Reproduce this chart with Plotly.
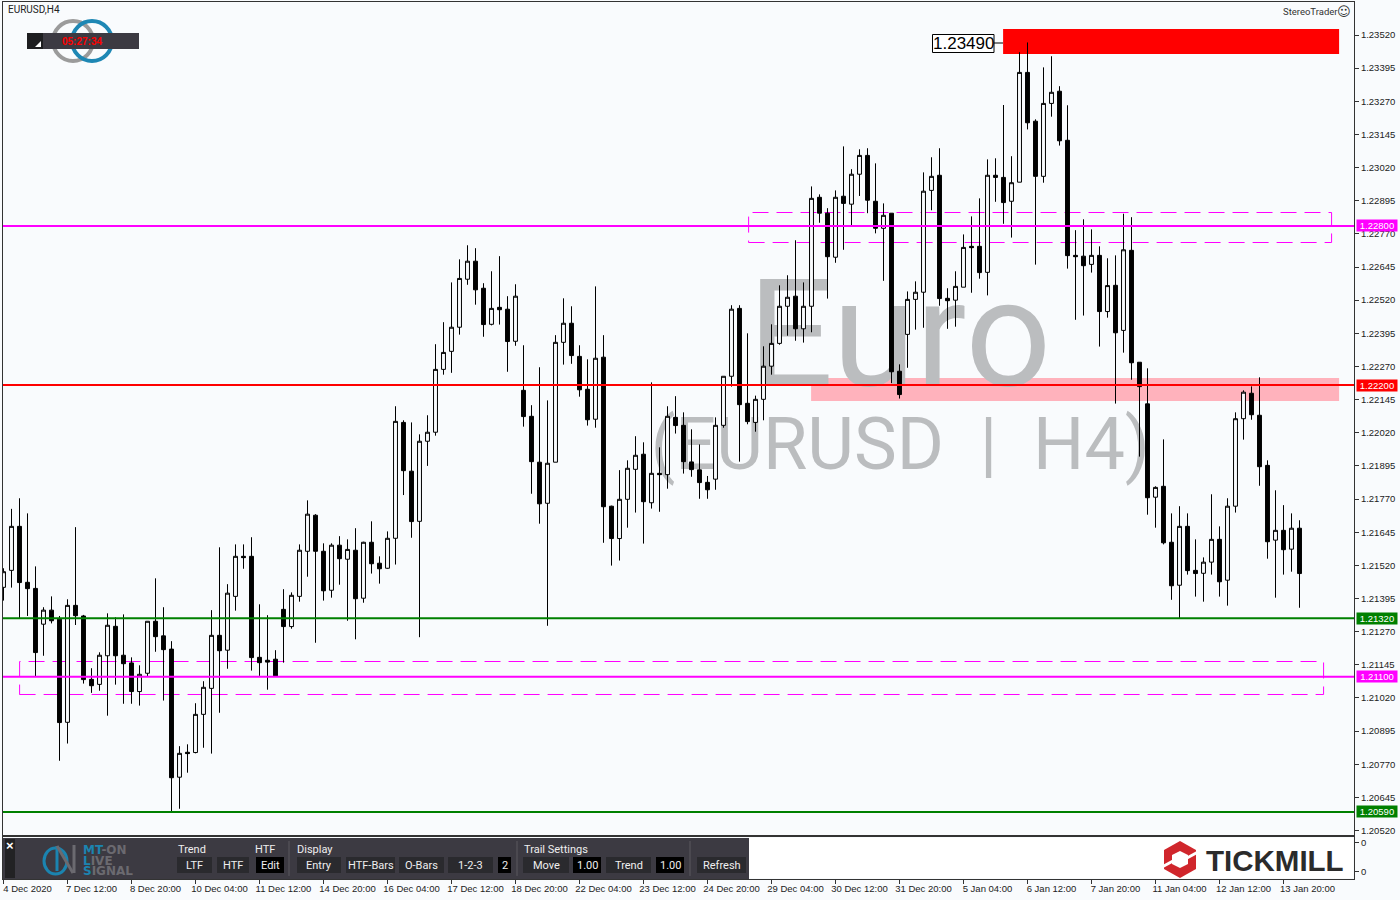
import plotly.graph_objects as go

# ---------- data ----------
open_prices = [
1.21437,1.21501,1.21667,1.21456,1.21433,1.21298,1.21351,1.21317,1.20928,1.21369,
1.21329,1.21090,1.21071,1.21179,1.21290,1.21181,1.21152,1.21044,1.21113,1.21309,
1.21254,1.21204,1.20721,1.20815,1.20814,1.20958,1.21056,1.21256,1.21200,1.21403,
1.21554,1.21554,1.21173,1.21162,1.21166,1.21354,1.21289,1.21403,1.21573,1.21709,
1.21573,1.21426,1.21596,1.21543,1.21577,1.21396,1.21607,1.21528,1.21509,1.21622,
1.22059,1.21875,1.21686,1.21988,1.22022,1.22259,1.22327,1.22418,1.22599,1.22667,
1.22565,1.22429,1.22493,1.22486,1.22365,1.22180,1.22082,1.21909,1.21754,1.21909,
1.22361,1.22433,1.22308,1.22184,1.22071,1.22305,1.21743,1.21621,1.21769,1.21882,
1.21939,1.21756,1.21867,1.21862,1.22078,1.22048,1.21910,1.21880,1.21833,1.21845,
1.22048,1.22233,1.22489,1.22131,1.22059,1.22146,1.22271,1.22357,1.22497,1.22535,
1.22412,1.22497,1.22908,1.22848,1.22682,1.22912,1.22882,1.22995,1.23066,1.22893,
1.22791,1.22848,1.22252,1.22391,1.22523,1.22550,1.22934,1.22991,1.22527,1.22520,
1.22569,1.22723,1.22723,1.22625,1.22991,1.22983,1.22893,1.22965,1.23379,1.23195,
1.22987,1.23262,1.23308,1.23123,1.22689,1.22686,1.22655,1.22689,1.22477,1.22576,
1.22406,1.22708,1.22286,1.22129,1.21777,1.21818,1.21607,1.21445,1.21667,1.21501,
1.21490,1.21532,1.21618,1.21464,1.21743,1.22073,1.22169,1.22086,1.21897,1.21615,
1.21652,1.21581,1.21660]
high_prices = [
1.21509,1.21733,1.21773,1.21716,1.21516,1.21362,1.21403,1.21329,1.21392,1.21664,
1.21333,1.21132,1.21192,1.21339,1.21324,1.21335,1.21173,1.21143,1.21309,1.21471,
1.21362,1.21234,1.20838,1.20845,1.21000,1.21083,1.21351,1.21588,1.21449,1.21599,
1.21599,1.21626,1.21373,1.21332,1.21200,1.21430,1.21418,1.21599,1.21765,1.21713,
1.21603,1.21603,1.21630,1.21618,1.21660,1.21609,1.21686,1.21554,1.21648,1.22120,
1.22067,1.22059,1.22014,1.22086,1.22354,1.22437,1.22587,1.22674,1.22727,1.22716,
1.22584,1.22629,1.22686,1.22535,1.22580,1.22350,1.22124,1.22267,1.22142,1.22388,
1.22527,1.22497,1.22350,1.22297,1.22572,1.22388,1.21745,1.21879,1.21916,1.22007,
1.21984,1.22210,1.21965,1.22120,1.22158,1.22097,1.22033,1.21976,1.21857,1.22078,
1.22233,1.22501,1.22501,1.22395,1.22160,1.22346,1.22429,1.22576,1.22614,1.22746,
1.22587,1.22949,1.22919,1.22867,1.22934,1.23100,1.23014,1.23089,1.23093,1.23036,
1.22885,1.22848,1.22278,1.22553,1.22591,1.23002,1.23059,1.23093,1.22565,1.22629,
1.22768,1.22836,1.22904,1.23051,1.23055,1.23256,1.23063,1.23455,1.23492,1.23202,
1.23398,1.23440,1.23327,1.23255,1.22784,1.22825,1.22787,1.22723,1.22678,1.22689,
1.22846,1.22833,1.22286,1.22263,1.21818,1.21995,1.21716,1.21743,1.21716,1.21618,
1.21550,1.21788,1.21667,1.21773,1.22097,1.22180,1.22195,1.22229,1.21916,1.21803,
1.21747,1.21716,1.21690]
low_prices = [
1.21387,1.21436,1.21321,1.21329,1.21100,1.21179,1.21301,1.20783,1.20848,1.21295,
1.21074,1.21039,1.21047,1.20953,1.21070,1.20998,1.20998,1.20991,1.21100,1.21194,
1.21010,1.20591,1.20602,1.20738,1.20811,1.20832,1.20810,1.20964,1.21130,1.21349,
1.21507,1.21123,1.21103,1.21051,1.21100,1.21153,1.21281,1.21383,1.21477,1.21228,
1.21387,1.21398,1.21447,1.21311,1.21241,1.21379,1.21489,1.21451,1.21507,1.21523,
1.21785,1.21624,1.21249,1.21895,1.22009,1.22239,1.22246,1.22390,1.22578,1.22503,
1.22382,1.22425,1.22428,1.22250,1.22348,1.22043,1.21790,1.21677,1.21292,1.21909,
1.22277,1.22280,1.22156,1.22047,1.22039,1.21605,1.21519,1.21538,1.21662,1.21719,
1.21602,1.21734,1.21722,1.21809,1.22017,1.21866,1.21854,1.21771,1.21771,1.21805,
1.22039,1.22194,1.21911,1.22052,1.22024,1.22067,1.22239,1.22352,1.22386,1.22367,
1.22360,1.22399,1.22812,1.22526,1.22661,1.22710,1.22802,1.22913,1.22848,1.22772,
1.22593,1.22207,1.22149,1.22265,1.22409,1.22416,1.22859,1.22499,1.22412,1.22420,
1.22569,1.22548,1.22601,1.22538,1.22891,1.22808,1.22756,1.22965,1.23164,1.22654,
1.22963,1.23212,1.23103,1.22639,1.22446,1.22462,1.22624,1.22345,1.22454,1.22130,
1.22322,1.22220,1.21930,1.21711,1.21662,1.21599,1.21390,1.21320,1.21485,1.21402,
1.21383,1.21485,1.21402,1.21368,1.21719,1.21994,1.22069,1.21820,1.21545,1.21398,
1.21485,1.21496,1.21360]
close_prices = [
1.21496,1.21667,1.21455,1.21432,1.21191,1.21351,1.21311,1.20927,1.21369,1.21330,
1.21089,1.21066,1.21181,1.21294,1.21179,1.21149,1.21044,1.21109,1.21309,1.21251,
1.21202,1.20719,1.20811,1.20810,1.20958,1.21060,1.21256,1.21198,1.21415,1.21554,
1.21549,1.21172,1.21153,1.21155,1.21103,1.21289,1.21407,1.21577,1.21713,1.21573,
1.21424,1.21596,1.21545,1.21580,1.21394,1.21607,1.21526,1.21507,1.21622,1.22063,
1.21877,1.21685,1.21988,1.22022,1.22259,1.22323,1.22418,1.22602,1.22667,1.22559,
1.22428,1.22489,1.22484,1.22364,1.22535,1.22081,1.21911,1.21752,1.21905,1.22361,
1.22433,1.22311,1.22182,1.22069,1.22301,1.21741,1.21621,1.21769,1.21886,1.21935,
1.21760,1.21867,1.21862,1.22082,1.22047,1.21911,1.21881,1.21832,1.21805,1.22048,
1.22233,1.22486,1.22126,1.22062,1.22146,1.22271,1.22357,1.22497,1.22531,1.22412,
1.22497,1.22904,1.22848,1.22684,1.22908,1.22885,1.22995,1.23066,1.22897,1.22791,
1.22840,1.22250,1.22164,1.22523,1.22550,1.22931,1.22987,1.22526,1.22518,1.22572,
1.22719,1.22718,1.22624,1.22991,1.22983,1.22888,1.22963,1.23379,1.23189,1.22987,
1.23262,1.23304,1.23121,1.22688,1.22684,1.22650,1.22689,1.22477,1.22575,1.22397,
1.22710,1.22284,1.22194,1.21775,1.21814,1.21605,1.21443,1.21667,1.21500,1.21489,
1.21532,1.21618,1.21458,1.21743,1.22073,1.22173,1.22088,1.21892,1.21609,1.21652,
1.21579,1.21660,1.21489]

price_ticks = [1.23520,1.23395,1.23270,1.23145,1.23020,1.22895,1.22770,1.22645,1.22520,1.22395,
               1.22270,1.22145,1.22020,1.21895,1.21770,1.21645,1.21520,1.21395,1.21270,1.21145,
               1.21020,1.20895,1.20770,1.20645,1.20520]
time_labels = ["4 Dec 2020","7 Dec 12:00","8 Dec 20:00","10 Dec 04:00","11 Dec 12:00","14 Dec 20:00",
               "16 Dec 04:00","17 Dec 12:00","18 Dec 20:00","22 Dec 04:00","23 Dec 12:00","24 Dec 20:00",
               "29 Dec 04:00","30 Dec 12:00","31 Dec 20:00","5 Jan 04:00","6 Jan 12:00","7 Jan 20:00",
               "11 Jan 04:00","12 Jan 12:00","13 Jan 20:00"]
time_ticks = [8 * k for k in range(len(time_labels))]
level_prices = [1.22800, 1.22200, 1.21320, 1.21100, 1.20590]
level_colors = ["#FF00FF", "#FF0000", "#008000", "#FF00FF", "#008000"]

# ---------- layout helpers ----------
W, H = 1400, 900
BG = "#F9FBFD"
INK = "#333333"
AXFONT = "Liberation Sans"
xp = lambda px: px / W
yp = lambda py: 1 - py / H
XR = [-0.0625, -0.0625 + 1351 / 8]
YR = [1.20503, 1.236445]
idx = list(range(len(open_prices)))

fig = go.Figure()
# watermark lives on the base subplot, so the candles overlay it
fig.add_trace(go.Scatter(x=[112.0, 112.1], y=[1.22340, 1.21951], mode="text",
                         text=["Euro", "(EURUSD\u00a0\u00a0|\u00a0\u00a0H4)"],
                         textposition="middle center", cliponaxis=False, hoverinfo="skip",
                         textfont=dict(family="Roboto", size=[151, 72], color="#BBBDBF"),
                         showlegend=False, xaxis="x", yaxis="y"))
fig.add_trace(go.Candlestick(x=idx, open=open_prices, high=high_prices, low=low_prices, close=close_prices,
                             increasing=dict(line=dict(color="#000000", width=1), fillcolor=BG),
                             decreasing=dict(line=dict(color="#000000", width=1), fillcolor="#000000"),
                             showlegend=False, xaxis="x2", yaxis="y2"))
fig.add_trace(go.Scatter(x=[0, 160], y=[0, 0], mode="lines", line=dict(color="rgba(0,0,0,0)"),
                         showlegend=False, hoverinfo="skip", xaxis="x3", yaxis="y3"))

shapes = []
def paper_rect(x0, y0, x1, y1, fill, line=None):
    shapes.append(dict(type="rect", xref="paper", yref="paper", x0=xp(x0), x1=xp(x1), y0=yp(y1), y1=yp(y0),
                       fillcolor=fill, line=dict(width=1 if line else 0, color=line or fill), layer="above"))
def paper_path(points, fill=None, line=None, width=0, close=True):
    d = "M" + " L".join(f"{xp(a):.5f},{yp(b):.5f}" for a, b in points) + (" Z" if close else "")
    shapes.append(dict(type="path", xref="paper", yref="paper", path=d, fillcolor=fill,
                       line=dict(color=line or "rgba(0,0,0,0)", width=width), layer="above"))
def paper_ring(x0, y0, x1, y1, color, width):
    shapes.append(dict(type="circle", xref="paper", yref="paper", x0=xp(x0), x1=xp(x1), y0=yp(y1), y1=yp(y0),
                       line=dict(color=color, width=width), layer="above"))

# zones behind the candles
shapes += [
    dict(type="rect", xref="x", yref="y", x0=124.95, x1=166.95, y0=1.23448, y1=1.23543,
         fillcolor="#FF0000", line=dict(width=0), layer="below"),
    dict(type="rect", xref="x", yref="y", x0=100.95, x1=166.95, y0=1.22140, y1=1.222266,
         fillcolor="#FFB2BC", line=dict(width=0), layer="below"),
    dict(type="rect", xref="x", yref="y", x0=93.14, x1=166.01, y0=1.227375, y1=1.228506,
         line=dict(color="#FF00FF", width=1, dash="16px,8px"), layer="below"),
    dict(type="rect", xref="x", yref="y", x0=2.0125, x1=165.01, y0=1.210329, y1=1.211573,
         line=dict(color="#FF00FF", width=1, dash="16px,8px"), layer="below"),
]
# level lines above the candles
for p, c in zip(level_prices, level_colors):
    shapes.append(dict(type="line", xref="paper", yref="y", x0=xp(3), x1=xp(1354), y0=p, y1=p,
                       line=dict(color=c, width=2), layer="above"))
# label for the high
paper_rect(932.5, 34.5, 994, 52.5, "#FFFFFF", "#000000")
paper_path([(994, 43), (1003, 43)], line="#000000", width=1, close=False)

# clock logo
paper_ring(53, 21, 93, 61, "#9B9B9B", 4)
paper_ring(72, 21, 112, 61, "#1E87B4", 4)
paper_rect(27, 33, 139, 49, "#3C3A42")
paper_rect(27, 33, 43, 49, "#1E1E20")
paper_path([(41, 41), (41, 47), (35, 47)], fill="#FFFFFF")

# lower panel
paper_rect(4, 838, 1353, 878, "#FFFFFF")
paper_rect(3, 838, 749, 879, "#3C3A42")
paper_rect(5, 839, 15, 878, "#222224")
paper_ring(44, 848, 67, 874, "#1B84B0", 3)
paper_path([(57, 846), (57, 871)], line="#1B84B0", width=3, close=False)
paper_path([(57, 846), (73, 873)], line="#6B6A70", width=3, close=False)
paper_path([(74, 845), (74, 873)], line="#6B6A70", width=3, close=False)
for a, b, fill in [(177, 212, "#2A2A2E"), (217, 249, "#2A2A2E"), (256, 284, "#000000"),
                   (297, 341, "#2A2A2E"), (346, 395, "#2A2A2E"), (399, 444, "#2A2A2E"),
                   (448, 493, "#2A2A2E"), (498, 511, "#000000"), (523, 569, "#2A2A2E"),
                   (573, 601, "#000000"), (606, 651, "#2A2A2E"), (656, 684, "#000000"),
                   (697, 746, "#2A2A2E")]:
    paper_rect(a, 857, b, 873, fill)
for sep in (289, 517, 690):
    paper_path([(sep, 841), (sep, 876)], line="#5A585F", width=1, close=False)

# Tickmill mark
paper_path([(1180, 841), (1196, 850), (1196, 869), (1180, 878), (1164, 869), (1164, 850)], fill="#D0262C")
paper_path([(1180, 851), (1188, 855), (1188, 864), (1180, 868), (1172, 864), (1172, 855)], fill="#FFFFFF")
paper_path([(1198, 852), (1187, 858)], line="#FFFFFF", width=3, close=False)
paper_path([(1162, 867), (1173, 861)], line="#FFFFFF", width=3, close=False)

# ---------- texts ----------
ann = []
def label(px, py, text, size=11, color="#EEEEEE", family="Roboto", anchor="left"):
    ann.append(dict(xref="paper", yref="paper", x=xp(px), y=yp(py), text=text, showarrow=False,
                    xanchor=anchor, yanchor="middle", align=anchor, borderpad=0,
                    font=dict(family=family, size=size, color=color)))

label(7, 10, "EURUSD,H4", 10, "#222222")
label(1282, 12, "StereoTrader", 9.5, "#333333")
label(1344, 12, "\u263A", 13, "#333333", "DejaVu Sans", "center")
label(82, 41, "<b>05:27:34</b>", 10, "#FF0000", "Liberation Sans", "center")
label(963, 44, "1.23490", 17, "#000000", "Liberation Sans", "center")

label(9.5, 845, "<b>\u00d7</b>", 13, "#FFFFFF", "Liberation Sans", "center")
BL = "#1B84B0"
GR = "#6B6A70"
label(82, 850, f"<b><span style='color:{BL}'>MT</span>-ON</b>", 12, GR, "DejaVu Sans")
label(82, 860.5, f"<b><span style='color:{BL}'>L</span>IVE</b>", 12, GR, "DejaVu Sans")
label(82, 871, f"<b><span style='color:{BL}'>S</span>IGNAL</b>", 12, GR, "DejaVu Sans")
for px, t in [(177, "Trend"), (254, "HTF"), (296, "Display"), (523, "Trail Settings")]:
    label(px, 849, t, 11)
for a, b, t in [(177, 212, "LTF"), (217, 249, "HTF"), (256, 284, "Edit"), (297, 341, "Entry"),
                (346, 395, "HTF-Bars"), (399, 444, "O-Bars"), (448, 493, "1-2-3"), (498, 511, "2"),
                (523, 569, "Move"), (573, 601, "1.00"), (606, 651, "Trend"), (656, 684, "1.00"),
                (697, 746, "Refresh")]:
    label((a + b) / 2, 865.5, t, 11, anchor="center")
label(1205, 860, "<b>TICKMILL</b>", 29.5, "#2B2B2B", "Liberation Sans")

for p, c in zip(level_prices, level_colors):
    ann.append(dict(xref="paper", yref="y", x=xp(1356), y=p, text=f"{p:.5f}", showarrow=False,
                    xanchor="left", yanchor="middle", width=40, height=11, align="center",
                    bgcolor=c, borderpad=0, font=dict(family=AXFONT, size=9.5, color="#FFFFFF")))

# ---------- axes ----------
axfont = dict(family=AXFONT, size=9.5, color="#222222")
fig.update_layout(
    width=W, height=H, margin=dict(l=0, r=0, t=0, b=0), showlegend=False,
    paper_bgcolor=BG, plot_bgcolor=BG, shapes=shapes, annotations=ann,
    xaxis=dict(domain=[xp(3), xp(1354)], range=XR, anchor="y", showgrid=False, zeroline=False,
               showticklabels=False, ticks="", showline=True, mirror=True, linecolor=INK, linewidth=1,
               rangeslider=dict(visible=False)),
    yaxis=dict(domain=[yp(835), yp(2)], range=YR, anchor="x", side="right", showgrid=False, zeroline=False,
               tickmode="array", tickvals=price_ticks, ticktext=[f"{v:.5f}" for v in price_ticks],
               ticks="outside", ticklen=4, tickcolor=INK, tickfont=axfont,
               showline=True, mirror=True, linecolor=INK, linewidth=1),
    xaxis2=dict(domain=[xp(3), xp(1354)], range=XR, overlaying="x", anchor="y2", visible=False,
                rangeslider=dict(visible=False)),
    yaxis2=dict(domain=[yp(835), yp(2)], range=YR, overlaying="y", anchor="x2", visible=False),
    xaxis3=dict(domain=[xp(3), xp(1354)], range=XR, anchor="y3", showgrid=False, zeroline=False,
                tickmode="array", tickvals=time_ticks, ticktext=time_labels, ticks="outside", ticklen=4,
                tickcolor=INK, tickfont=axfont, ticklabelshift=24, ticklabelstandoff=-3, tickangle=0,
                showline=True, mirror=True, linecolor=INK, linewidth=1),
    yaxis3=dict(domain=[yp(879), yp(837)], range=[0, 1], anchor="x3", side="right", showgrid=False, zeroline=False,
                tickmode="array", tickvals=[0.86, 0.17], ticktext=["0", "0"], ticks="outside", ticklen=4,
                tickcolor=INK, tickfont=axfont, showline=True, mirror=True, linecolor=INK, linewidth=1),
)

fig.write_html("out.html", config={"displayModeBar": False},
               post_script="document.body.style.margin='0';document.body.style.overflow='hidden';")
